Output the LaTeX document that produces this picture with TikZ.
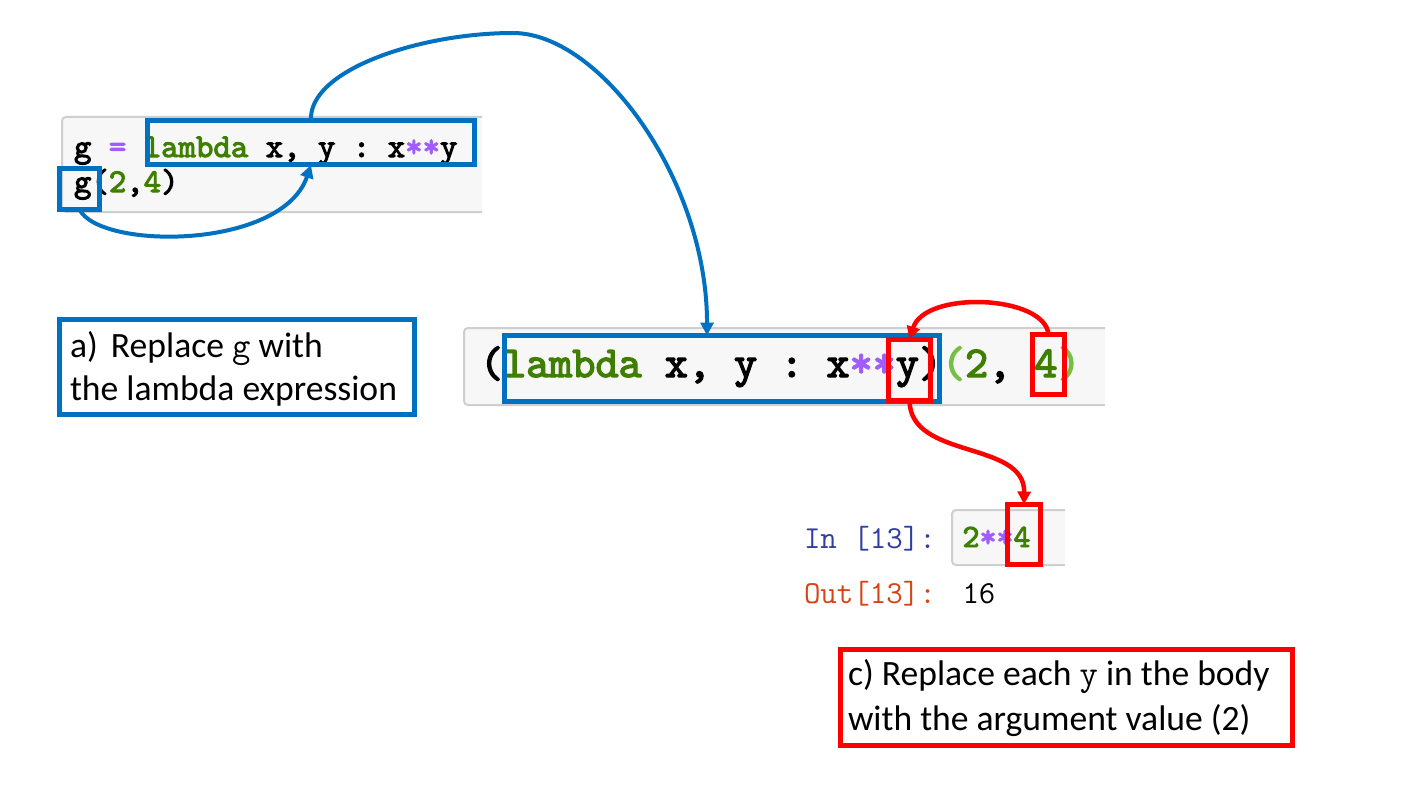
\documentclass[tikz,border=0pt]{standalone}
\usepackage{fontspec}
\setmainfont{Carlito}
\newfontfamily\boldmono{lmmono10-regular.otf}[FakeBold=3]
\usetikzlibrary{arrows.meta,fit,calc}
\definecolor{cblue}{HTML}{0070C0}
\definecolor{cred}{HTML}{FF0000}
\definecolor{cgreen}{HTML}{3F7F00}
\definecolor{cpurple}{HTML}{A05CFF}
\definecolor{clgreen}{HTML}{74C044}
\definecolor{cellbg}{HTML}{F7F7F7}
\definecolor{cellbd}{HTML}{CFCFCF}
\definecolor{inblue}{HTML}{303F9F}
\definecolor{outred}{HTML}{D84315}
\frenchspacing
\begin{document}
\begin{tikzpicture}[x=0.5pt,y=-0.5pt,
  cellfill/.style={fill=cellbg,draw=none,inner sep=0pt,outer sep=0pt},
  cellline/.style={draw=cellbd,line width=1pt,rounded corners=2pt},
  bluebox/.style={draw=cblue,line width=2.5pt,inner sep=0pt,outer sep=0pt},
  redbox/.style={draw=cred,line width=2.75pt,inner sep=0pt,outer sep=0pt},
  bluearrow/.style={draw=cblue,line width=2pt,-{Triangle[length=6.5pt,width=6.5pt]}},
  redarrow/.style={draw=cred,line width=2.25pt,-{Triangle[length=6.5pt,width=6.5pt]}},
  codetext/.style={anchor=base west,inner sep=0pt,outer sep=0pt},
  labeltext/.style={anchor=base west,inner sep=0pt,outer sep=0pt,font=\fontsize{17.8pt}{21pt}\selectfont},
  stepcode/.style={font=\boldmono\fontsize{#1}{#1}\selectfont},
  promptcode/.style={font=\ttfamily\fontsize{#1}{#1}\selectfont}
]
\fill[white] (0,0) rectangle (1425,792);
\useasboundingbox (0,0) rectangle (1425,792);

% ---- top code cell ----
\node[cellfill,fit={(62,117)(482,212)}] (cell1) {};
\draw[cellline] (cell1.north east) -- (cell1.north west) -- (cell1.south west) -- (cell1.south east);
\node[codetext,stepcode=16.6pt] (line1) at (74,157)
  {g \textcolor{cpurple}{=} \textcolor{cgreen}{lambda} x, y : x\textcolor{cpurple}{**}y};
\node[codetext,stepcode=16.6pt] (line2) at (74,192)
  {g(\textcolor{cgreen}{2},\textcolor{cgreen}{4})};
\node[bluebox,fit={(147.5,120.5)(474.5,165)}] (lam1) {};
\node[bluebox,fit={(59.5,168.5)(99.5,209.5)}] (gbox) {};

% ---- middle code cell ----
\node[cellfill,fit={(464,328)(1105,405)}] (cell2) {};
\draw[cellline] (cell2.north east) -- (cell2.north west) -- (cell2.south west) -- (cell2.south east);
\node[codetext,stepcode=22pt] (line3) at (480,377)
  {(\textcolor{cgreen}{lambda} x, y : x\textcolor{cpurple}{**}y)\textcolor{clgreen}{(}\textcolor{cgreen}{2}, \textcolor{cgreen}{4}\textcolor{clgreen}{)}};
\node[bluebox,fit={(504.5,335.5)(939.5,401.5)}] (lam2) {};
\node[redbox,fit={(888.5,339.5)(930.5,400.5)}] (ry) {};
\node[redbox,fit={(1032.5,334.5)(1064.5,394.5)}] (rfour) {};

% ---- lower code cell ----
\node[cellfill,fit={(952,510)(1065,565)}] (cell3) {};
\draw[cellline] (cell3.north east) -- (cell3.north west) -- (cell3.south west) -- (cell3.south east);
\node[codetext,promptcode=16pt,text=inblue] (inp) at (804,548) {In [13]:};
\node[codetext,stepcode=16.2pt] (line4) at (962.5,547)
  {\textcolor{cgreen}{2}\textcolor{cpurple}{**}\textcolor{cgreen}{4}};
\node[codetext,promptcode=16pt,text=outred] (outp) at (804,603) {Out[13]:};
\node[codetext,promptcode=16pt] (res) at (962.5,603) {16};
\node[redbox,fit={(1007.5,504.5)(1040.5,564.5)}] (rfourb) {};

% ---- label boxes ----
\node[bluebox,fit={(59.5,319.5)(414.5,414.5)}] (boxa) {};
\node[labeltext] (atext1) at (70,357) {a)\hspace{0.37em}Replace {\ttfamily g} with};
\node[labeltext] (atext2) at (70,400) {the lambda expression};
\node[redbox,fit={(840.5,649.5)(1292.5,745.5)}] (boxc) {};
\node[labeltext] (ctext1) at (848,685) {c) Replace each {\ttfamily y} in the body};
\node[labeltext] (ctext2) at (848,730) {with the argument value (2)};

% ---- connectors ----
\draw[bluearrow] (gbox.south) .. controls (100,250) and (282,250) .. (lam1.south);
\coordinate (lamtop) at ($(lam2.north west)!0.4656!(lam2.north east)$);
\draw[bluearrow] (lam1.north) .. controls (308,70) and (420,33) .. (513,33)
  .. controls (600,33) and (707,180) .. (lamtop);
\draw[redarrow] (rfour.north) .. controls (1045,295) and (925,290) .. (ry.north);
\draw[redarrow] (ry.south) .. controls (910,460) and (1025,440) .. (rfourb.north);
\end{tikzpicture}
\end{document}
